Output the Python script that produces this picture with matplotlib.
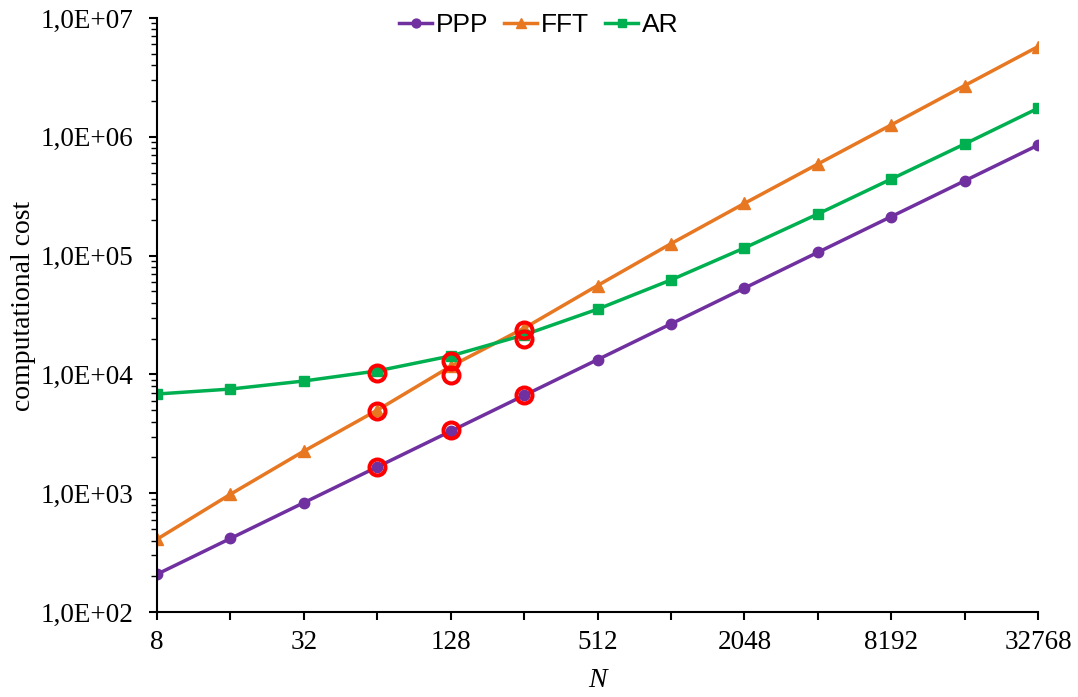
import math
import matplotlib
matplotlib.use("Agg")
import matplotlib.pyplot as plt
from matplotlib.ticker import FixedLocator, FuncFormatter, LogLocator, NullFormatter

# sizes N and cost of each method
N = [8, 16, 32, 64, 128, 256, 512, 1024, 2048, 4096, 8192, 16384, 32768]
ppp = [208, 416, 832, 1664, 3328, 6656, 13312, 26624, 53248, 106496, 212992, 425984, 851968]
fft = [410, 980, 2260, 5000, 11700, 24500, 56000, 126000, 275000, 590000, 1260000, 2700000, 5750000]
ar = [6840, 7530, 8800, 10700, 14300, 21500, 35400, 62400, 116000, 224000, 441000, 870000, 1740000]

# highlighted (red ring) points
hl_N = [64, 64, 64, 128, 128, 128, 256, 256, 256]
hl_cost = [10300, 4920, 1660, 13000, 9890, 3400, 23700, 19900, 6710]

fig = plt.figure(figsize=(10.78, 6.97), dpi=100)
ax = fig.add_axes([0.1456, 0.1219, 0.8174, 0.8523])

lw = 2.5
ax.plot(N, ppp, "-o", color="#7030A0", lw=lw, ms=7.5, label="PPP")
ax.plot(N, fft, "-^", color="#E87722", lw=lw, ms=8, label="FFT")
ax.plot(N, ar, "-s", color="#00B050", lw=lw, ms=7, label="AR")
ax.plot(hl_N, hl_cost, "o", ls="none", mfc="none", mec="#FF0000", ms=11.5, mew=2.9, zorder=5)

ax.set_xscale("log", base=2)
ax.set_yscale("log")
ax.set_xlim(8, 32768)
ax.set_ylim(1e2, 1e7)

ax.xaxis.set_major_locator(FixedLocator(N))
ax.xaxis.set_major_formatter(FuncFormatter(lambda v, p: f"{int(round(v))}" if p % 2 == 0 else ""))
ax.xaxis.set_minor_locator(FixedLocator([]))
ax.yaxis.set_major_locator(LogLocator(base=10, numticks=10))
ax.yaxis.set_major_formatter(FuncFormatter(lambda v, p: "1,0E+%02d" % round(math.log10(v))))
ax.yaxis.set_minor_locator(LogLocator(base=10, subs=range(2, 10), numticks=20))
ax.yaxis.set_minor_formatter(NullFormatter())

for s in ["top", "right"]:
    ax.spines[s].set_visible(False)
for s in ["left", "bottom"]:
    ax.spines[s].set_linewidth(1.5)

ax.tick_params(axis="both", which="major", direction="out", length=6, width=1.5)
ax.tick_params(axis="y", which="minor", direction="out", length=4, width=1.0)
ax.tick_params(axis="y", labelsize=19.5, pad=11)
ax.tick_params(axis="x", labelsize=19.5, pad=7)
for lab in ax.get_xticklabels() + ax.get_yticklabels():
    lab.set_fontfamily("Liberation Serif")

ax.set_xlabel("N", fontsize=20, family="Liberation Serif", style="italic")
ax.xaxis.set_label_coords(0.5, -0.095)
ax.set_ylabel("computational cost", fontsize=20, family="Liberation Serif")
ax.yaxis.set_label_coords(-0.137, 0.515)

fig.legend(loc="upper center", bbox_to_anchor=(0.5, 1.015), ncol=3, frameon=False,
           prop={"family": "Liberation Sans", "size": 19}, handlelength=1.25,
           columnspacing=0.6, handletextpad=0.15, markerscale=0.85)

plt.savefig("out.png", dpi=100)
